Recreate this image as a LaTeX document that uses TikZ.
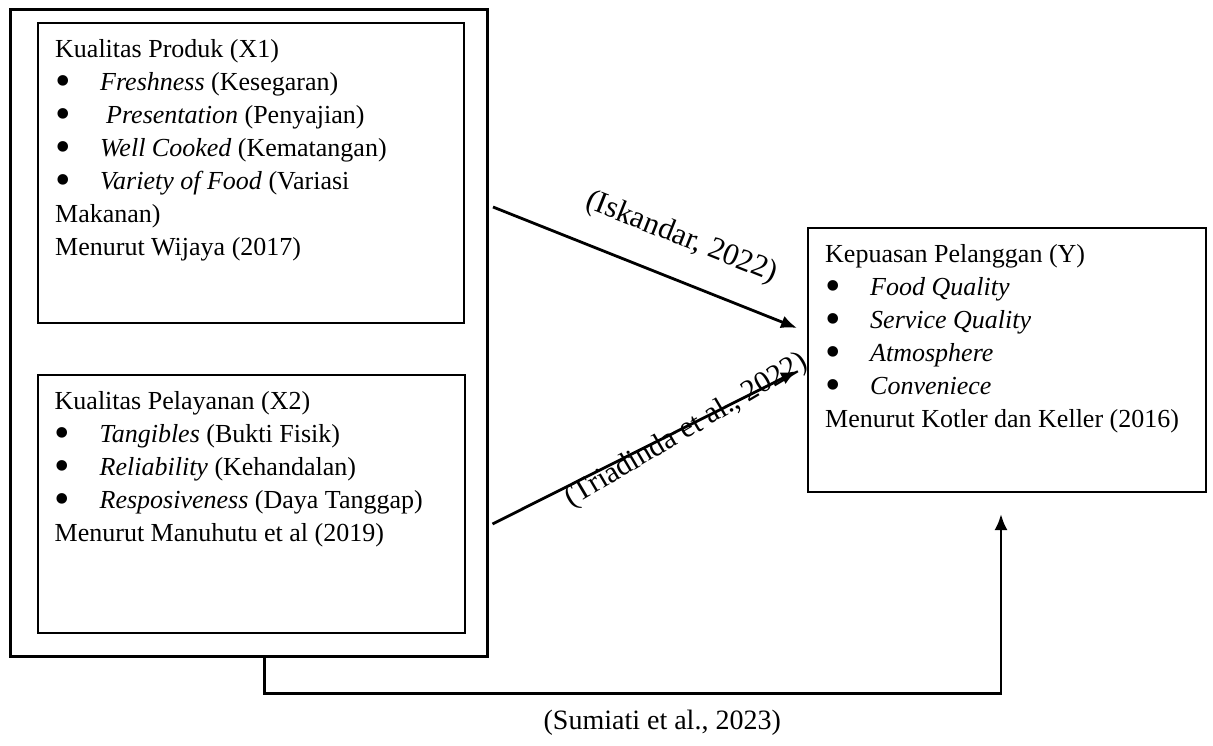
\documentclass[tikz,border=0pt]{standalone}
\usepackage{fontspec}
\usepackage{graphicx}
\setmainfont{Liberation Serif}
\usetikzlibrary{arrows.meta,positioning}
\tikzset{
    every node/.append style={align=left},
    box/.style={rectangle,draw=black,line width=2pt,inner sep=0pt},
    grpbox/.style={rectangle,draw=black,line width=3pt,inner sep=0pt},
    txt/.style={inner sep=0pt,font=\fontsize{26}{33}\selectfont},
    arr/.style={-{Latex[length=16pt,width=13pt]},line width=2.8pt},
    lbl/.style={font=\fontsize{28}{30}\selectfont,inner sep=0pt}
}
\newcommand{\itm}{\makebox[45pt][l]{\raisebox{-5pt}{\scalebox{1.7}{\textbullet}}}}

\begin{document}
\begin{tikzpicture}[x=1pt,y=1pt]
    \useasboundingbox (0,0) rectangle (1213,-745);

    \node[grpbox,minimum width=477pt,minimum height=647pt] (grp) at (248.5,-332.5) {};
    \node[box,minimum width=426pt,minimum height=300pt,below right=14.5pt and 28.5pt of grp.north west] (x1) {};
    \node[box,minimum width=427pt,minimum height=258pt,below=50pt of x1] (x2) {};
    \node[box,minimum width=398pt,minimum height=264pt] (kp) at (1007,-360) {};

    \node[txt,below right=17pt and 18pt of x1.north west] (x1t) {Kualitas Produk (X1)\\
        \itm\textit{Freshness} (Kesegaran)\\
        \itm\hspace{6pt}\textit{Presentation} (Penyajian)\\
        \itm\textit{Well Cooked} (Kematangan)\\
        \itm\textit{Variety of Food} (Variasi\\
        Makanan)\\
        Menurut Wijaya (2017)};
    \node[txt,below right=17pt and 18pt of x2.north west] (x2t) {Kualitas Pelayanan (X2)\\
        \itm\textit{Tangibles} (Bukti Fisik)\\
        \itm\textit{Reliability} (Kehandalan)\\
        \itm\textit{Resposiveness} (Daya Tanggap)\\
        Menurut Manuhutu et al (2019)};
    \node[txt,below right=17pt and 18pt of kp.north west] (kpt) {Kepuasan Pelanggan (Y)\\
        \itm\textit{Food Quality}\\
        \itm\textit{Service Quality}\\
        \itm\textit{Atmosphere}\\
        \itm\textit{Conveniece}\\
        Menurut Kotler dan Keller (2016)};

    \draw[arr] ([shift={(28,-34)}]x1.east) -- node[lbl,font=\fontsize{31}{32}\selectfont,sloped,pos=0.57,yshift=41pt] (l1) {(Iskandar, 2022)} ([shift={(-10,32)}]kp.west);
    \draw[arr] ([shift={(27,-20)}]x2.east) -- node[lbl,font=\fontsize{30}{32}\selectfont,sloped,rotate=4,pos=0.63,yshift=-4pt] (l2) {(Triadinda et al., 2022)} ([shift={(-10,-11)}]kp.west);
    \draw[arr] ([xshift=16pt]grp.south) -- ++(0,-36) -| node[lbl,pos=0.27,below=15pt] (l3) {(Sumiati et al., 2023)} ([shift={(-6,-21)}]kp.south);
\end{tikzpicture}
\end{document}
